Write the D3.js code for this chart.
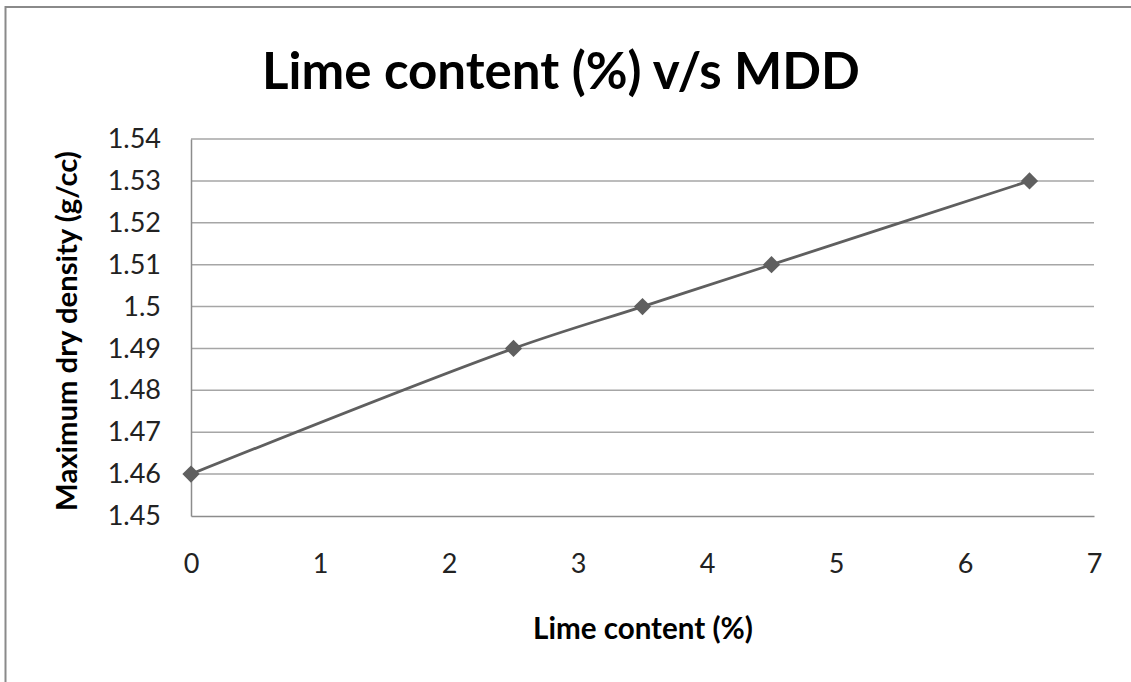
<!DOCTYPE html>
<html>
<head>
<meta charset="utf-8">
<script src="https://cdn.jsdelivr.net/npm/d3@7"></script>
<style>
  html, body { margin: 0; padding: 0; background: #fff; }
  svg { display: block; }
</style>
</head>
<body>
<svg id="chart" width="1131" height="682"></svg>
<script>
// ---- data ----
const limeContent = [0, 2.5, 3.5, 4.5, 6.5];
const mdd = [1.46, 1.49, 1.50, 1.51, 1.53];
const xTicks = [0, 1, 2, 3, 4, 5, 6, 7];
const yTicks = [1.45, 1.46, 1.47, 1.48, 1.49, 1.50, 1.51, 1.52, 1.53, 1.54];
const yTickLabels = ["1.45", "1.46", "1.47", "1.48", "1.49", "1.5", "1.51", "1.52", "1.53", "1.54"];
const chartTitle = "Lime content (%) v/s MDD";
const xTitle = "Lime content (%)";
const yTitle = "Maximum dry density (g/cc)";

const svg = d3.select("#chart");
const W = 1131, H = 682;
const font = "Lato, 'Open Sans', sans-serif";

// outer border
svg.append("rect")
  .attr("x", 5.5).attr("y", 7).attr("width", W + 10).attr("height", H + 10)
  .attr("fill", "#fff").attr("stroke", "#8a8a8a").attr("stroke-width", 2);

const plot = { left: 191, right: 1094, top: 139, bottom: 516 };
const x = d3.scaleLinear().domain([0, 7]).range([plot.left, plot.right]);
const y = d3.scaleLinear().domain([1.45, 1.54]).range([plot.bottom, plot.top]);

// gridlines
svg.append("g").selectAll("line").data(yTicks.slice(1)).join("line")
  .attr("x1", plot.left).attr("x2", plot.right)
  .attr("y1", d => y(d)).attr("y2", d => y(d))
  .attr("stroke", "#a6a6a6").attr("stroke-width", 1.5);

// y axis
const yAxis = d3.axisLeft(y).tickValues(yTicks)
  .tickFormat((d, i) => yTickLabels[i]).tickSize(0).tickPadding(30);
const gy = svg.append("g").attr("transform", `translate(${plot.left},0)`).call(yAxis);
gy.select(".domain").attr("stroke", "#8c8c8c").attr("stroke-width", 1.5);
gy.selectAll("text").attr("font-family", font).attr("font-size", 27).attr("fill", "#222");

// x axis
const xAxis = d3.axisBottom(x).tickValues(xTicks).tickFormat(d3.format("d")).tickSize(0).tickPadding(38);
const gx = svg.append("g").attr("transform", `translate(0,${plot.bottom})`).call(xAxis);
gx.select(".domain").attr("stroke", "#8c8c8c").attr("stroke-width", 1.5);
gx.selectAll("text").attr("font-family", font).attr("font-size", 27).attr("fill", "#222");

// line
const pts = limeContent.map((d, i) => [d, mdd[i]]);
const line = d3.line().x(d => x(d[0])).y(d => y(d[1])).curve(d3.curveCatmullRom.alpha(0.5));
svg.append("path").datum(pts).attr("d", line)
  .attr("fill", "none").attr("stroke", "#5f5f5f").attr("stroke-width", 2.8);

// markers
svg.append("g").selectAll("path").data(pts).join("path")
  .attr("transform", d => `translate(${x(d[0])},${y(d[1])})`)
  .attr("d", d3.symbol().type(d3.symbolDiamond2).size(190))
  .attr("fill", "#5f5f5f");

// helper: fit text to width
function fitText(sel, targetWidth) {
  const node = sel.node();
  const fs = parseFloat(sel.attr("font-size"));
  const w = node.getComputedTextLength();
  if (w > 0) sel.attr("font-size", fs * targetWidth / w);
}

const t = svg.append("text").attr("x", 561).attr("y", 89)
  .attr("text-anchor", "middle").attr("font-family", font).attr("font-weight", "bold")
  .attr("font-size", 56).attr("fill", "#000").text(chartTitle);
fitText(t, 598);

const xt = svg.append("text").attr("x", 643).attr("y", 639)
  .attr("text-anchor", "middle").attr("font-family", font).attr("font-weight", "bold")
  .attr("font-size", 22).attr("fill", "#000").text(xTitle);
fitText(xt, 220);

const yt = svg.append("text").attr("transform", "translate(77,331) rotate(-90)")
  .attr("text-anchor", "middle").attr("font-family", font).attr("font-weight", "bold")
  .attr("font-size", 22).attr("fill", "#000").text(yTitle);
fitText(yt, 360);
</script>
</body>
</html>
